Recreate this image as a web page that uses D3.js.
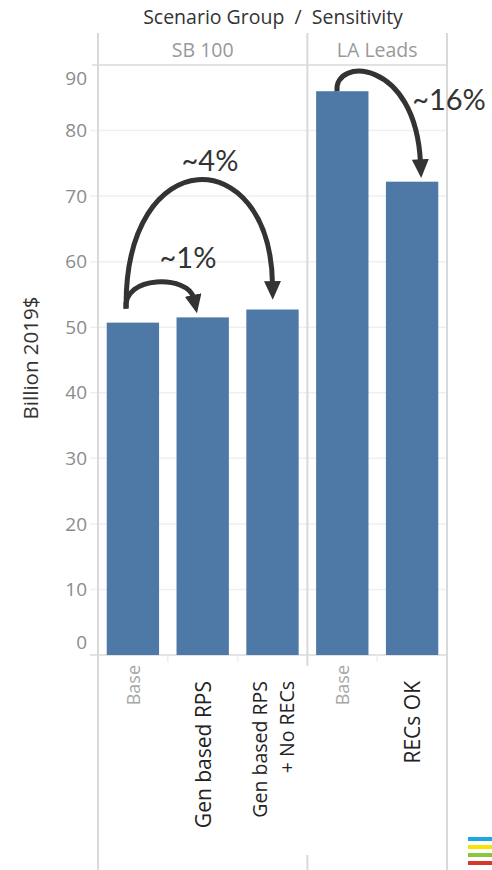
<!DOCTYPE html>
<html><head><meta charset="utf-8">
<script src="https://cdn.jsdelivr.net/npm/d3@7"></script>
<style>body{margin:0;background:#fff}svg{display:block}</style>
</head><body>
<svg id="c" width="492" height="870"></svg>
<script>
// ---- data ----
const groups = ["SB 100", "LA Leads"];
const categories = ["Base", "Gen based RPS", "Gen based RPS\n+ No RECs", "Base", "RECs OK"];
const categoryGroup = ["SB 100", "SB 100", "SB 100", "LA Leads", "LA Leads"];
const values = [50.7, 51.5, 52.7, 86.0, 72.2];
const yTicks = [0, 10, 20, 30, 40, 50, 60, 70, 80, 90];
const annFrom = [0, 0, 3];
const annTo = [1, 2, 4];
const annPeak = [56.9, 72.5, 88.5];
const annLabel = ["~1%", "~4%", "~16%"];

const svg = d3.select("#c");
const pLeft = 98, pRight = 447, pTop = 65, pBottom = 655;
const keys = categories.map((d, i) => i);
const x = d3.scaleBand().domain(keys).range([pLeft, pRight]).paddingInner(0.25).paddingOuter(0.125);
const y = d3.scaleLinear().domain([0, 90]).range([pBottom, pTop]);
const font = "'Open Sans', sans-serif";

// header
svg.append("text").attr("x", 273).attr("y", 24).attr("text-anchor", "middle")
  .attr("font-family", font).attr("font-size", 19.5).attr("fill", "#333")
  .text("Scenario Group\u00a0\u00a0/\u00a0\u00a0Sensitivity");

// group extents
const gStart = groups.map(g => categoryGroup.indexOf(g));
const gEnd = groups.map(g => categoryGroup.lastIndexOf(g));
const gx0 = gStart.map(i => x(i) - x.step() * x.paddingInner() / 2);
const gx1 = gEnd.map(i => x(i) + x.bandwidth() + x.step() * x.paddingInner() / 2);
gx0[0] = pLeft; gx1[gx1.length - 1] = pRight;

groups.forEach((g, i) => {
  svg.append("text").attr("x", (gx0[i] + gx1[i]) / 2).attr("y", 57).attr("text-anchor", "middle")
    .attr("font-family", font).attr("font-size", 19.5).attr("fill", "#999").text(g);
});

// gridlines
svg.append("g").selectAll("line").data(yTicks.filter(t => t > 0 && t < 90)).join("line")
  .attr("x1", 90).attr("x2", pRight).attr("y1", d => y(d)).attr("y2", d => y(d))
  .attr("stroke", "#efefef").attr("stroke-width", 1.5);

// header line
svg.append("line").attr("x1", 92).attr("x2", pRight).attr("y1", pTop).attr("y2", pTop)
  .attr("stroke", "#d9d9d9").attr("stroke-width", 1.5);
// baseline
svg.append("line").attr("x1", 90).attr("x2", pRight).attr("y1", pBottom).attr("y2", pBottom)
  .attr("stroke", "#d9d9d9").attr("stroke-width", 1.5);

// vertical borders
svg.append("line").attr("x1", pLeft).attr("x2", pLeft).attr("y1", 33).attr("y2", 870).attr("stroke", "#d9d9d9").attr("stroke-width", 2);
svg.append("line").attr("x1", pRight).attr("x2", pRight).attr("y1", 33).attr("y2", 870).attr("stroke", "#d9d9d9").attr("stroke-width", 2);
for (let i = 1; i < groups.length; i++) {
  const xd = gx0[i];
  svg.append("line").attr("x1", xd).attr("x2", xd).attr("y1", 33).attr("y2", 666).attr("stroke", "#d9d9d9").attr("stroke-width", 2);
  svg.append("line").attr("x1", xd).attr("x2", xd).attr("y1", 855).attr("y2", 870).attr("stroke", "#d9d9d9").attr("stroke-width", 2);
}
// small separators under baseline
keys.slice(1).forEach(i => {
  if (categoryGroup[i] === categoryGroup[i - 1]) {
    const xs = x(i) - x.step() * x.paddingInner() / 2;
    svg.append("line").attr("x1", xs).attr("x2", xs).attr("y1", pBottom).attr("y2", 662).attr("stroke", "#eee").attr("stroke-width", 1.5);
  }
});

// y tick labels
svg.append("g").selectAll("text").data(yTicks).join("text")
  .attr("x", 87).attr("y", d => d === 90 ? y(d) + 13 : d === 0 ? y(d) - 13 : y(d))
  .attr("dy", "0.35em").attr("text-anchor", "end")
  .attr("font-family", font).attr("font-size", 19).attr("fill", "#8c8c8c").text(d => d);

// y title
svg.append("text").attr("transform", "translate(30,358) rotate(-90)").attr("text-anchor", "middle")
  .attr("dominant-baseline", "central")
  .attr("font-family", font).attr("font-size", 20.5).attr("fill", "#333").text("Billion 2019$");

// bars
svg.append("g").selectAll("rect").data(keys).join("rect")
  .attr("x", i => x(i)).attr("width", x.bandwidth())
  .attr("y", i => y(values[i])).attr("height", i => y(0) - y(values[i]))
  .attr("fill", "#4e79a7");

// x labels
keys.forEach(i => {
  const lines = categories[i].split("\n");
  const isBase = categories[i] === "Base";
  const fs = isBase ? 18 : (lines.length > 1 ? 19.5 : 21);
  const cx = x(i) + x.bandwidth() / 2;
  const lh = 27;
  lines.forEach((t, j) => {
    const lx = cx + (j - (lines.length - 1) / 2) * lh;
    svg.append("text").attr("transform", `translate(${lx},${isBase ? 665 : 681}) rotate(-90)`)
      .attr("text-anchor", "end").attr("dominant-baseline", "central")
      .attr("font-family", font).attr("font-size", fs)
      .attr("fill", isBase ? "#a6a6a6" : "#222").text(t);
  });
});

// annotations
const defs = svg.append("defs");
defs.append("marker").attr("id", "ah").attr("viewBox", "0 0 11 10").attr("refX", 2).attr("refY", 5)
  .attr("markerWidth", 3.8).attr("markerHeight", 3.4).attr("orient", "auto")
  .attr("markerUnits", "strokeWidth")
  .append("path").attr("d", "M0,0 L11,5 L0,10 Z").attr("fill", "#333");

const annText = [[188, 258], [210, 161], [449, 100]];
const annStartFrac = [0.37, 0.37, 0.4];
const annEndFrac = [0.33, 0.5, 0.66];
const annEndGap = [19, 25, 19];
annFrom.forEach((f, k) => {
  const t = annTo[k];
  const sx = x(f) + x.bandwidth() * annStartFrac[k];
  const sy = y(values[f]) - (k === 2 ? 0 : 14);
  const ex = x(t) + x.bandwidth() * annEndFrac[k];
  const ey = y(values[t]) - annEndGap[k];
  const py = y(annPeak[k]);
  const cy = (py - 0.125 * (sy + ey)) / 0.75;
  const path = d3.path();
  path.moveTo(sx, sy);
  path.bezierCurveTo(sx - (k === 1 ? 2 : 4), cy, ex - (k === 1 ? 2 : 5), cy, ex, ey);
  svg.append("path").attr("d", path.toString()).attr("fill", "none").attr("stroke", "#333")
    .attr("stroke-width", 5).attr("marker-end", "url(#ah)");
  svg.append("text").attr("x", annText[k][0]).attr("y", annText[k][1]).attr("dy", "0.35em")
    .attr("text-anchor", "middle").attr("font-family", "Lato, sans-serif").attr("font-size", 29)
    .attr("fill", "#333").text(annLabel[k]);
});

// legend icon
const iconColors = ["#1ea8df", "#f6e500", "#8cc63e", "#d9372b"];
svg.append("g").selectAll("rect").data(iconColors).join("rect")
  .attr("x", 468).attr("width", 24).attr("y", (d, i) => 837 + i * 8).attr("height", 4).attr("fill", d => d);
</script>
</body></html>
